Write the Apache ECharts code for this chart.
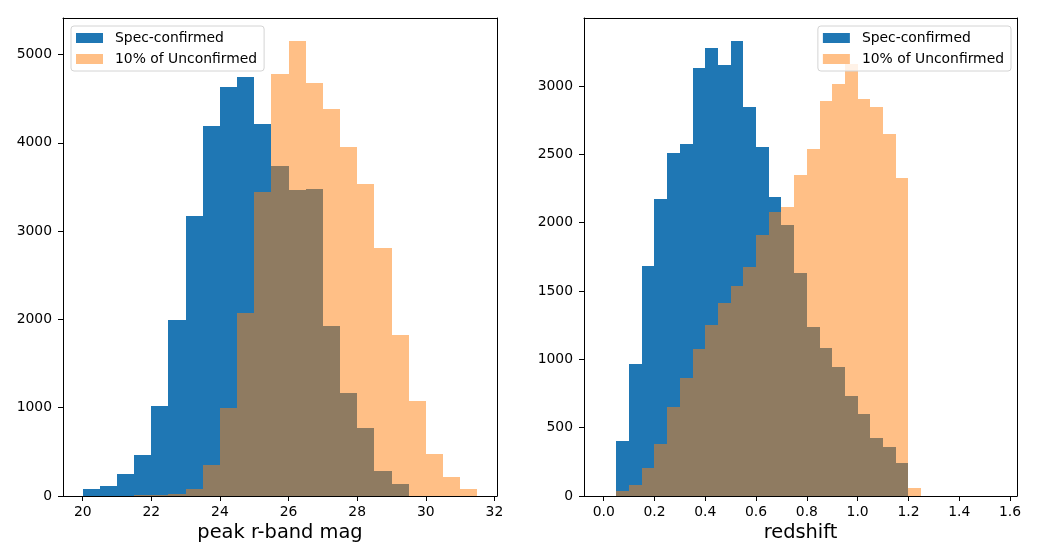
<!DOCTYPE html>
<html>
<head>
<meta charset="utf-8">
<script src="https://cdn.jsdelivr.net/npm/echarts@6/dist/echarts.min.js"></script>
<style>
  html, body { margin: 0; padding: 0; background: #fff; }
  #main { width: 1045px; height: 552px; }
</style>
</head>
<body>
<div id="main"></div>
<script>
// left panel: peak r-band mag, bins of 0.5 from 20
var magBinStart = 20;
var magBinWidth = 0.5;
var magSpec = [79, 113, 249, 464, 1023, 1993, 3171, 4190, 4635, 4749, 4216, 3741,
  3469, 3480, 1925, 1167, 770, 286, 139, 0, 0, 0, 0];
var magUnconf = [0, 3, 5, 8, 12, 23, 79, 351, 997, 2076, 3446, 4779,
  5153, 4677, 4383, 3952, 3533, 2808, 1823, 1076, 479, 215, 79];
var magTicks = [20, 22, 24, 26, 28, 30, 32];
var magCountTicks = [0, 1000, 2000, 3000, 4000, 5000];

// right panel: redshift, bins of 0.05 from 0
var zBinStart = 0;
var zBinWidth = 0.05;
var zSpec = [0, 402, 966, 1683, 2175, 2511, 2575, 3133, 3277, 3153, 3328, 2846,
  2553, 2187, 1982, 1631, 1236, 1083, 944, 732, 600, 424, 358, 241,
  0, 0, 0, 0, 0, 0, 0];
var zUnconf = [0, 39, 80, 205, 383, 653, 865, 1075, 1251, 1414, 1536, 1675,
  1909, 2078, 2114, 2348, 2538, 2890, 3014, 3160, 2904, 2846, 2648, 2326,
  59, 0, 0, 0, 0, 0, 0];
var zTicks = [0, 0.2, 0.4, 0.6, 0.8, 1.0, 1.2, 1.4, 1.6];
var zCountTicks = [0, 500, 1000, 1500, 2000, 2500, 3000];

var FONT = 'DejaVu Sans';
var BLUE = '#1f77b4';
var ORANGE = 'rgba(255,127,14,0.5)';

function toBins(counts, start, width) {
  return counts.map(function (c, i) {
    return [start + i * width, start + (i + 1) * width, c];
  });
}

function renderHist(params, api) {
  if (!api.value(2)) return null;
  var p0 = api.coord([api.value(0), api.value(2)]);
  var p1 = api.coord([api.value(1), 0]);
  var x0 = Math.round(p0[0]), x1 = Math.round(p1[0]);
  var y0 = Math.round(p0[1]), y1 = Math.round(p1[1]);
  return {
    type: 'rect',
    shape: { x: x0, y: y0, width: x1 - x0, height: y1 - y0 },
    style: { fill: api.visual('color') }
  };
}

function histSeries(name, color, counts, start, width, axis) {
  return {
    type: 'custom', name: name, xAxisIndex: axis, yAxisIndex: axis,
    itemStyle: { color: color },
    renderItem: renderHist,
    encode: { x: [0, 1], y: 2 },
    data: toBins(counts, start, width),
    clip: true
  };
}

var tickText = { fontFamily: FONT, fontSize: 13.9, color: '#000' };
var blackLine = { color: '#000', width: 1 };

function xAxisCfg(grid, min, max, ticks, name, digits) {
  return {
    type: 'value', gridIndex: grid, min: min, max: max, z: 10,
    name: name, nameLocation: 'middle', nameGap: 27,
    nameTextStyle: { fontFamily: FONT, fontSize: 19.4, color: '#000' },
    axisLine: { show: true, onZero: false, lineStyle: blackLine },
    axisTick: { show: true, length: 5, lineStyle: blackLine, customValues: ticks },
    axisLabel: Object.assign({ customValues: ticks, margin: 9,
      formatter: function (v) { return digits ? v.toFixed(digits) : String(v); } }, tickText),
    splitLine: { show: false }
  };
}

function yAxisCfg(grid, max, ticks) {
  return {
    type: 'value', gridIndex: grid, min: 0, max: max, z: 10,
    axisLine: { show: true, onZero: false, lineStyle: blackLine },
    axisTick: { show: true, length: 5, lineStyle: blackLine, customValues: ticks },
    axisLabel: Object.assign({ customValues: ticks, margin: 11,
      formatter: function (v) { return String(v); } }, tickText),
    splitLine: { show: false }
  };
}

function frameAxis(grid, pos) {
  return {
    type: 'value', gridIndex: grid, position: pos, z: 10,
    axisLine: { show: true, onZero: false, lineStyle: blackLine },
    axisTick: { show: false }, axisLabel: { show: false }, splitLine: { show: false }
  };
}

function legendCfg(pos) {
  return Object.assign({
    orient: 'vertical', top: 26,
    data: ['Spec-confirmed', '10% of Unconfirmed'],
    icon: 'rect', itemWidth: 27, itemHeight: 10, itemGap: 5,
    padding: [4, 7, 4, 5],
    backgroundColor: 'rgba(255,255,255,0.8)',
    borderColor: '#d4d4d4', borderWidth: 1, borderRadius: 3,
    selectedMode: false,
    textStyle: { fontFamily: FONT, fontSize: 13.9, color: '#000', lineHeight: 16, padding: [0, 0, 0, 7] }
  }, pos);
}

var chart = echarts.init(document.getElementById('main'), null, { renderer: 'canvas' });
chart.setOption({
  animation: false,
  backgroundColor: '#fff',
  grid: [
    { left: 63, top: 18, width: 434, height: 478 },
    { left: 584, top: 18, width: 433, height: 478 }
  ],
  legend: [legendCfg({ left: 71 }), legendCfg({ right: 34 })],
  xAxis: [
    xAxisCfg(0, 19.425, 32.075, magTicks, 'peak r-band mag', 0),
    xAxisCfg(1, -0.0775, 1.6275, zTicks, 'redshift', 1),
    frameAxis(0, 'top'),
    frameAxis(1, 'top')
  ],
  yAxis: [
    yAxisCfg(0, 5413, magCountTicks),
    yAxisCfg(1, 3497, zCountTicks),
    frameAxis(0, 'right'),
    frameAxis(1, 'right')
  ],
  series: [
    histSeries('Spec-confirmed', BLUE, magSpec, magBinStart, magBinWidth, 0),
    histSeries('10% of Unconfirmed', ORANGE, magUnconf, magBinStart, magBinWidth, 0),
    histSeries('Spec-confirmed', BLUE, zSpec, zBinStart, zBinWidth, 1),
    histSeries('10% of Unconfirmed', ORANGE, zUnconf, zBinStart, zBinWidth, 1)
  ]
});
</script>
</body>
</html>
